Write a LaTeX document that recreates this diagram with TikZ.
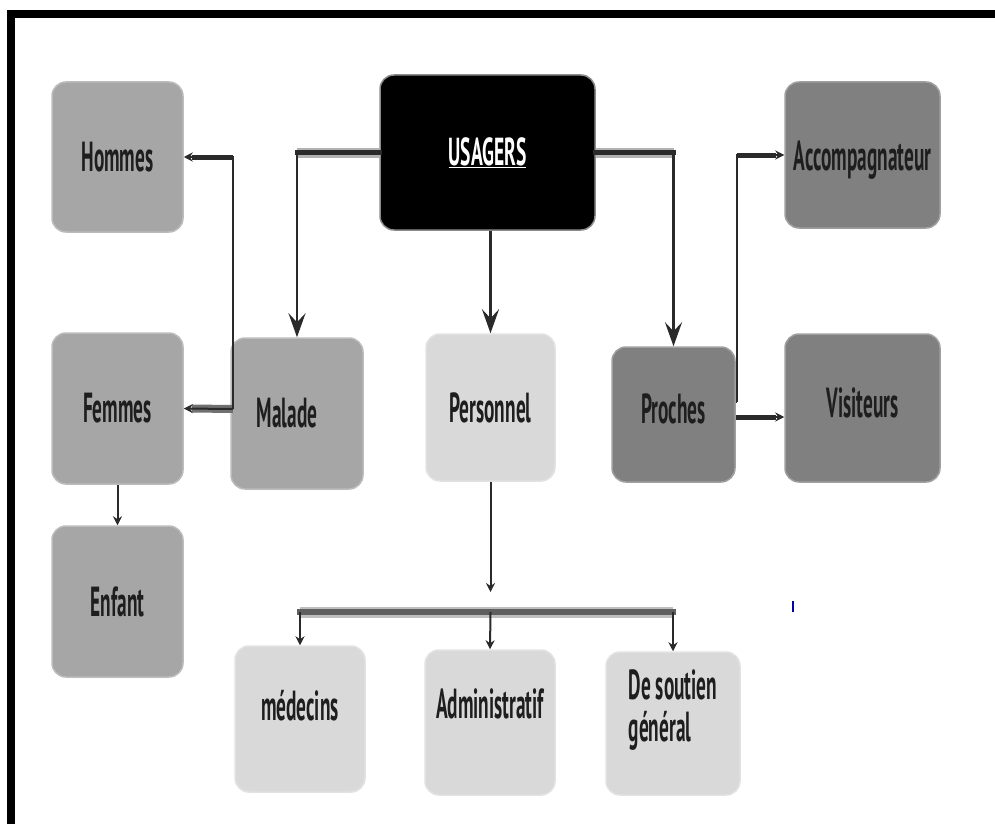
\documentclass[tikz,border=0pt]{standalone}
\usepackage{fontspec}
\newfontfamily\condfont{PT Sans}[FakeStretch=0.46]
\newfontfamily\condfontw{PT Sans}[FakeStretch=0.5]
\usetikzlibrary{arrows.meta,calc}
\definecolor{colA}{HTML}{A6A6A6}
\definecolor{colB}{HTML}{808080}
\definecolor{colC}{HTML}{D9D9D9}
\definecolor{txt}{HTML}{1E1E1E}
\definecolor{lnk}{HTML}{2A2A2A}
\definecolor{lnkgray}{HTML}{707070}
\begin{document}
\begin{tikzpicture}[x=1pt,y=-1pt,
  bx/.style n args={3}{rectangle, rounded corners=14pt, fill=#1, draw=#1!75!white, line width=1.5pt,
     minimum width=#2pt, minimum height=#3pt, inner sep=0pt, text=txt,
     font=\condfont\bfseries\fontsize{42}{42}\selectfont},
  conn/.style={draw=lnk, line width=2.6pt},
  thin/.style={draw=lnk, line width=2pt},
  small/.style={-{Stealth[length=9pt,width=9pt]}},
  big/.style={-{Stealth[length=24pt,width=17pt,inset=9pt]}},
  halo/.style={draw=black!30, line width=10pt},
  heavy/.style={draw=lnk, line width=5pt},
]
\useasboundingbox (0,0) rectangle (995,824);
\fill[white] (0,0) rectangle (995,824);
\draw[line width=8pt, line join=miter] (11,824) -- (11,14) -- (995,14);

% nodes
\node[bx={colA}{131}{150}] (hommes) at (117.5,157) {Hommes};
\node[bx={black}{215}{155}, draw=black!45, text=white,
      font=\condfontw\bfseries\fontsize{39}{40}\selectfont] (usagers) at (487.5,152.5) {\underline{USAGERS}};
\node[bx={colB}{155}{146}, text height=40pt] (accomp) at (862.5,155) {Accompagnateur};
\node[bx={colA}{131}{151}] (femmes) at (117.5,408.5) {Femmes};
\node[bx={colA}{132}{151}] (malade) at (297,413.5) {\hspace*{-20pt}Malade};
\node[bx={colC}{129}{147}] (personnel) at (490.5,407.5) {Personnel};
\node[bx={colB}{123}{135}, text depth=12pt] (proches) at (673.5,414.5) {Proches};
\node[bx={colB}{155}{148}, text depth=10pt] (visiteurs) at (862.5,408) {Visiteurs};
\node[bx={colA}{131}{151}] (enfant) at (117.5,601.5) {Enfant};
\node[bx={colC}{130}{146}, text depth=28pt] (medecins) at (300,719) {médecins};
\node[bx={colC}{130}{145}, text depth=38pt] (admin) at (490,722.5) {Administratif};
\node[bx={colC}{134}{143}, align=left, text depth=36pt] (soutien) at (673,723.5) {De soutien\\général};

% USAGERS -> Malade
\draw[halo] (usagers.west) -- (usagers.west -| malade.north);
\draw[heavy, line cap=rect] (usagers.west) -- (usagers.west -| malade.north);
\draw[conn, big] (usagers.west) -| (malade.north);
% USAGERS -> Personnel
\draw[conn, big] (usagers.south -| personnel.north) -- (personnel.north);
% USAGERS -> Proches
\draw[halo] (usagers.east) -- (usagers.east -| proches.north);
\draw[heavy, line cap=rect] (usagers.east) -- (usagers.east -| proches.north);
\draw[conn, big] (usagers.east) -| (proches.north);

% Malade -> Femmes / Hommes
\coordinate (mj) at (233,409);
\draw[draw=lnkgray, line width=8pt] (mj) -- ([xshift=8pt]femmes.east);
\draw[thin, small] (mj) -- (femmes.east);
\draw[heavy] ([xshift=8pt]hommes.east) -- (hommes.east -| mj);
\draw[thin, small] (mj) |- (hommes.east);
% Femmes -> Enfant
\draw[thin, small] (femmes.south) -- (enfant.north);

% Proches -> Accompagnateur / Visiteurs
\coordinate (pj) at (737,402);
\draw[thin] (proches.east |- pj) -- (pj);
\draw[heavy] (pj |- accomp.west) -- ([xshift=-8pt]accomp.west);
\draw[thin, small] (pj) |- (accomp.west);
\draw[heavy] (proches.east |- 0,417) -- ([xshift=-8pt]visiteurs.west |- 0,417);
\draw[thin, small] (proches.east |- 0,417) -- (visiteurs.west |- 0,417);

% Personnel -> bottom row
\coordinate (bar) at (490.5,612);
\draw[thin, small] (personnel.south) -- ([yshift=20pt]bar);
\draw[draw=black!25, line width=11pt] (bar -| medecins.north) -- (bar -| soutien.north);
\draw[draw=lnkgray!85!black, line width=6pt, line cap=rect] (bar -| medecins.north) -- (bar -| soutien.north);
\draw[thin, small] (bar -| medecins.north) -- (medecins.north);
\draw[thin, small] (bar) -- (admin.north);
\draw[thin, small] (bar -| soutien.north) -- (soutien.north);

% stray blue mark
\draw[blue!70!black, line width=2pt] (793,601) -- (793,612);
\end{tikzpicture}
\end{document}
